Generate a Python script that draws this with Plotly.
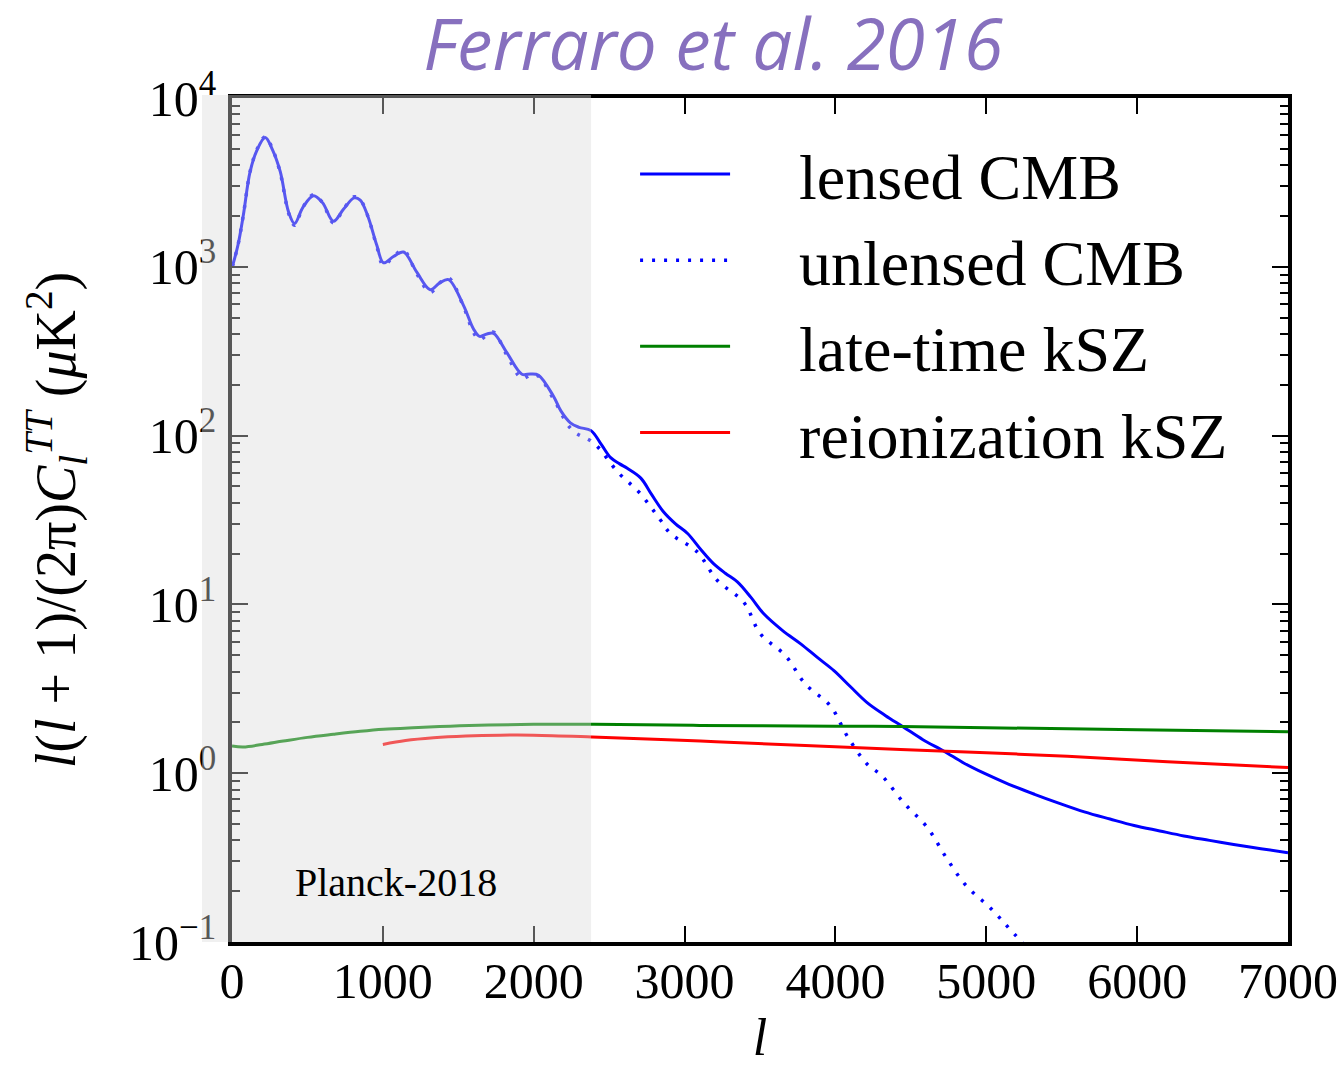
import plotly.graph_objects as go

# ---------------- data ----------------
lensed_l = [2, 40, 75, 120, 165, 220, 270, 320, 375, 415, 470, 540, 600, 672, 740, 810, 850, 900, 960,
            1004, 1070, 1137, 1225, 1314, 1375, 1435, 1535, 1600, 1641, 1690, 1734, 1822, 1922, 1980, 2032,
            2131, 2180, 2243, 2300, 2380, 2450, 2510, 2570, 2620, 2710, 2780, 2860, 2940, 3020, 3110, 3190,
            3270, 3350, 3440, 3525, 3650, 3770, 3880, 3990, 4100, 4210, 4330, 4450, 4580, 4720, 4850, 4985,
            5150, 5320, 5480, 5650, 5820, 5980, 6150, 6310, 6480, 6640, 6820, 7000]
lensed_D = [1000, 1350, 2020, 3660, 4900, 5840, 4900, 3660, 2115, 1803, 2250, 2635, 2400, 1862, 2200, 2560, 2480, 2000, 1340,
            1057, 1150, 1223, 929, 732, 800, 840, 589, 430, 387, 400, 403, 310, 231, 232, 228,
            171, 140, 119, 112, 107, 88, 74, 68, 64, 56, 45, 35.4, 30, 26.3, 21, 17.5,
            15.3, 13.6, 11, 8.8, 7.0, 5.84, 4.85, 4.05, 3.25, 2.62, 2.2, 1.88, 1.58, 1.35, 1.15, 1.0,
            0.86, 0.75, 0.665, 0.59, 0.535, 0.49, 0.455, 0.425, 0.40, 0.378, 0.357, 0.338]

unlensed_l = [2, 40, 75, 120, 165, 220, 270, 320, 375, 415, 470, 540, 600, 672, 740, 810, 850, 900, 960,
              1004, 1070, 1137, 1225, 1314, 1375, 1435, 1535, 1600, 1641, 1690, 1734, 1822, 1922, 1980, 2032,
              2131, 2254, 2400, 2563, 2700, 2840, 2906, 3083, 3216, 3392, 3503, 3669, 3801, 3967, 4078, 4211,
              4306, 4454, 4609, 4731, 4864, 5030, 5184, 5400]
unlensed_D = [1000, 1350, 2020, 3660, 4950, 5900, 4950, 3600, 2080, 1760, 2250, 2680, 2400, 1820, 2200, 2600, 2500, 2000, 1320,
              1020, 1150, 1250, 910, 705, 800, 860, 580, 410, 370, 395, 410, 300, 218, 228, 225,
              165, 108, 90, 60, 46, 31.6, 26.3, 20.5, 13.9, 10.3, 6.69, 4.97, 3.37, 2.5, 1.66, 1.13,
              0.97, 0.666, 0.477, 0.32, 0.217, 0.158, 0.112, 0.07]

late_l = [0, 75, 200, 340, 500, 672, 850, 1004, 1200, 1446, 1700, 2000, 2400, 3100, 4000, 4432, 5000, 6000, 7000]
late_D = [1.45, 1.43, 1.48, 1.55, 1.63, 1.70, 1.77, 1.82, 1.86, 1.90, 1.93, 1.95, 1.95, 1.92, 1.90, 1.89, 1.86, 1.81, 1.76]

reion_l = [1000, 1150, 1336, 1550, 1778, 2000, 2386, 3105, 3800, 4432, 5000, 5538, 6200, 7000]
reion_D = [1.48, 1.56, 1.62, 1.66, 1.68, 1.68, 1.64, 1.55, 1.46, 1.38, 1.32, 1.26, 1.17, 1.08]

series_names = ["lensed CMB", "unlensed CMB", "late-time kSZ", "reionization kSZ"]
x_ticks = [0, 1000, 2000, 3000, 4000, 5000, 6000, 7000]
y_ticks = [0.1, 1, 10, 100, 1000, 10000]
y_ticktext = ["10<sup>−1</sup>", "10<sup>0</sup>", "10<sup>1</sup>", "10<sup>2</sup>", "10<sup>3</sup>", "10<sup>4</sup>"]
planck_lmax = 2380
x_max = 7000

# ---------------- figure ----------------
SERIF = "Liberation Serif"
PAD = "\u00a0" * 4  # gap between legend line sample and label, as in the reference

fig = go.Figure()
fig.add_trace(go.Scatter(x=unlensed_l, y=unlensed_D, name=PAD + series_names[1], mode="lines",
                         line=dict(color="#0000ff", width=3.5, dash="3px,9px", shape="spline", smoothing=1.0),
                         legendrank=2))
fig.add_trace(go.Scatter(x=lensed_l, y=lensed_D, name=PAD + series_names[0], mode="lines",
                         line=dict(color="#0000ff", width=3, shape="spline", smoothing=1.0), legendrank=1))
fig.add_trace(go.Scatter(x=late_l, y=late_D, name=PAD + series_names[2], mode="lines",
                         line=dict(color="#008000", width=3, shape="spline"), legendrank=3))
fig.add_trace(go.Scatter(x=reion_l, y=reion_D, name=PAD + series_names[3], mode="lines",
                         line=dict(color="#ff0000", width=3, shape="spline"), legendrank=4))

minor_vals = [m * 10 ** e for e in range(-1, 4) for m in range(2, 10)]

fig.update_xaxes(range=[0, x_max], tickvals=x_ticks, ticks="inside", ticklen=16, tickwidth=2,
                 tickcolor="black", showline=True, linewidth=3.5, linecolor="black", mirror="ticks",
                 showgrid=False, zeroline=False, ticklabelstandoff=-8, automargin=True,
                 tickfont=dict(family=SERIF, size=50, color="black"),
                 title=dict(text="<i>l</i>", font=dict(family=SERIF, size=52, color="black"), standoff=12))
fig.update_yaxes(type="log", range=[-1, 4], tickvals=y_ticks, ticktext=y_ticktext, ticks="inside",
                 ticklen=16, tickwidth=2, tickcolor="black", showline=True, linewidth=3.5, linecolor="black",
                 mirror="ticks", showgrid=False, zeroline=False, ticklabelstandoff=2, automargin=True,
                 minor=dict(tickvals=minor_vals, ticks="inside", ticklen=8, tickwidth=2, tickcolor="black",
                            showgrid=False),
                 tickfont=dict(family=SERIF, size=50, color="black"),
                 title=dict(text="<i>l</i>(<i>l</i> + 1)/(2π)<i>C</i><sub><i>l</i></sub><sup><i>TT</i></sup> (<i>μ</i>K<sup>2</sup>)",
                            font=dict(family=SERIF, size=56, color="black"), standoff=36))

# Planck coverage shading (drawn above, lightening everything beneath)
fig.add_shape(type="rect", xref="paper", yref="paper", x0=-0.0284, x1=planck_lmax / x_max, y0=0, y1=1.0036,
              fillcolor="rgb(218,218,218)", opacity=0.4, line_width=0, layer="above")

fig.add_annotation(x=1087, y=-0.65, xref="x", yref="y", text="Planck-2018", showarrow=False,
                   font=dict(family=SERIF, size=40, color="black"))

fig.update_layout(
    width=1343, height=1070,
    margin=dict(l=232, r=55, t=98, b=128, autoexpand=False),
    paper_bgcolor="white", plot_bgcolor="white",
    title=dict(text="Ferraro et al. 2016", x=0.531, xref="container", xanchor="center",
               y=1 - 45 / 1070, yref="container", yanchor="middle",
               font=dict(family="Open Sans", size=71, color="#8770be", style="italic")),
    legend=dict(x=0.3817, y=0.967, xanchor="left", yanchor="top", bgcolor="rgba(0,0,0,0)",
                font=dict(family=SERIF, size=64, color="black"), itemwidth=90,
                traceorder="normal"),
    showlegend=True,
)

fig.write_html("out.html")
